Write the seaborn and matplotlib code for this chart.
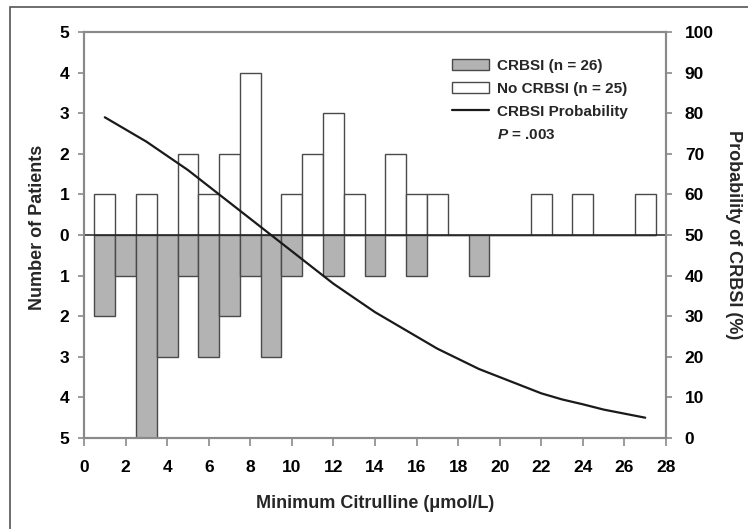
import numpy as np
import pandas as pd
import seaborn as sns
from matplotlib import pyplot as plt
from matplotlib.patches import Patch, Rectangle
from matplotlib.lines import Line2D
from matplotlib.ticker import FuncFormatter

# minimum citrulline bins (umol/L)
citrulline = list(range(1, 28))
crbsi    = [2, 1, 5, 3, 1, 3, 2, 1, 3, 1, 0, 1, 0, 1, 0, 1, 0, 0, 1, 0, 0, 0, 0, 0, 0, 0, 0]
no_crbsi = [1, 0, 1, 0, 2, 1, 2, 4, 0, 1, 2, 3, 1, 0, 2, 1, 1, 0, 0, 0, 0, 1, 0, 1, 0, 0, 1]
# probability curve (%)
prob_x = list(range(1, 28))
prob_y = [79, 76, 73, 69.5, 66, 62, 58, 54, 50, 46, 42, 38, 34.5, 31, 28, 25, 22,
          19.5, 17, 15, 13, 11, 9.5, 8.3, 7, 6, 5]

sns.set_style('white')
plt.rcParams['font.family'] = ['Liberation Sans', 'DejaVu Sans']
plt.rcParams['font.weight'] = 'bold'
plt.rcParams['mathtext.fontset'] = 'custom'
plt.rcParams['mathtext.it'] = 'Liberation Sans:bold:italic'
plt.rcParams['mathtext.rm'] = 'Liberation Sans:bold'

GRAY  = '#b3b3b3'
EDGE  = '#4a4a4a'
SPINE = '#8a8a8a'

df = pd.DataFrame({'x': citrulline, 'crbsi': [-v for v in crbsi], 'no': no_crbsi})

fig = plt.figure(figsize=(7.48, 5.29), dpi=100)
ax = fig.add_axes([84/748, 1-438/529, 582/748, 406/529])
ax2 = ax.twinx()

sns.barplot(data=df, x='x', y='no', native_scale=True, width=1, color='white',
            edgecolor=EDGE, linewidth=1, saturation=1, errorbar=None, ax=ax)
sns.barplot(data=df, x='x', y='crbsi', native_scale=True, width=1, color=GRAY,
            edgecolor=EDGE, linewidth=1, saturation=1, errorbar=None, ax=ax)
ax.axhline(0, color='#222222', lw=1.1, zorder=5)

sns.lineplot(x=prob_x, y=prob_y, color='#1a1a1a', lw=1.6, ax=ax2)

ax.set_xlim(0, 28)
ax.set_ylim(-5, 5)
ax.set_xticks(range(0, 29, 2))
ax.set_yticks(range(-5, 6))
ax.yaxis.set_major_formatter(FuncFormatter(lambda v, p: '%d' % abs(v)))
ax2.set_ylim(0, 100)
ax2.set_yticks(range(0, 101, 10))

for a in (ax, ax2):
    for s in a.spines.values():
        s.set_color(SPINE)
        s.set_linewidth(1.5)
    a.tick_params(direction='out', length=5, width=1.2, color=SPINE,
                  labelsize=12.5, labelcolor='black')
ax.tick_params(axis='y', left=True, right=False, length=4.5, pad=6)
ax.tick_params(axis='x', bottom=True, length=6, pad=10)
ax2.tick_params(axis='y', right=True, left=False, length=4.5, pad=9)
for lab in ax.get_xticklabels() + ax.get_yticklabels() + ax2.get_yticklabels():
    lab.set_fontweight('bold')

ax.set_xlabel('Minimum Citrulline (\u03bcmol/L)', fontsize=13, fontweight='bold')
ax.set_ylabel('Number of Patients', fontsize=13, fontweight='bold')
ax2.set_ylabel('Probability of CRBSI (%)', fontsize=13, fontweight='bold', rotation=270)
ax.xaxis.set_label_coords(0.5, -0.140)
ax.yaxis.set_label_coords(-0.066, 0.52)
ax2.yaxis.set_label_coords(1.13, 0.5)

handles = [Patch(facecolor=GRAY, edgecolor=EDGE, lw=1),
           Patch(facecolor='white', edgecolor=EDGE, lw=1),
           Line2D([], [], color='#1a1a1a', lw=1.6),
           Line2D([], [], color='none')]
labels = ['CRBSI (n = 26)', 'No CRBSI (n = 25)', 'CRBSI Probability', '$P$ = .003']
leg = ax2.legend(handles, labels, loc='upper left', bbox_to_anchor=(452/748, 1-59/529),
                 bbox_transform=fig.transFigure, frameon=False, fontsize=11,
                 handlelength=2.4, handleheight=0.72, handletextpad=0.55,
                 labelspacing=0.58, borderpad=0, borderaxespad=0)
for t in leg.get_texts():
    t.set_fontweight('bold')

fig.add_artist(Rectangle((10/748, -0.1), 2, 1.1 - 7/529, transform=fig.transFigure,
                         fill=False, ec='#555555', lw=1.2))

plt.savefig('out.png', dpi=100)
